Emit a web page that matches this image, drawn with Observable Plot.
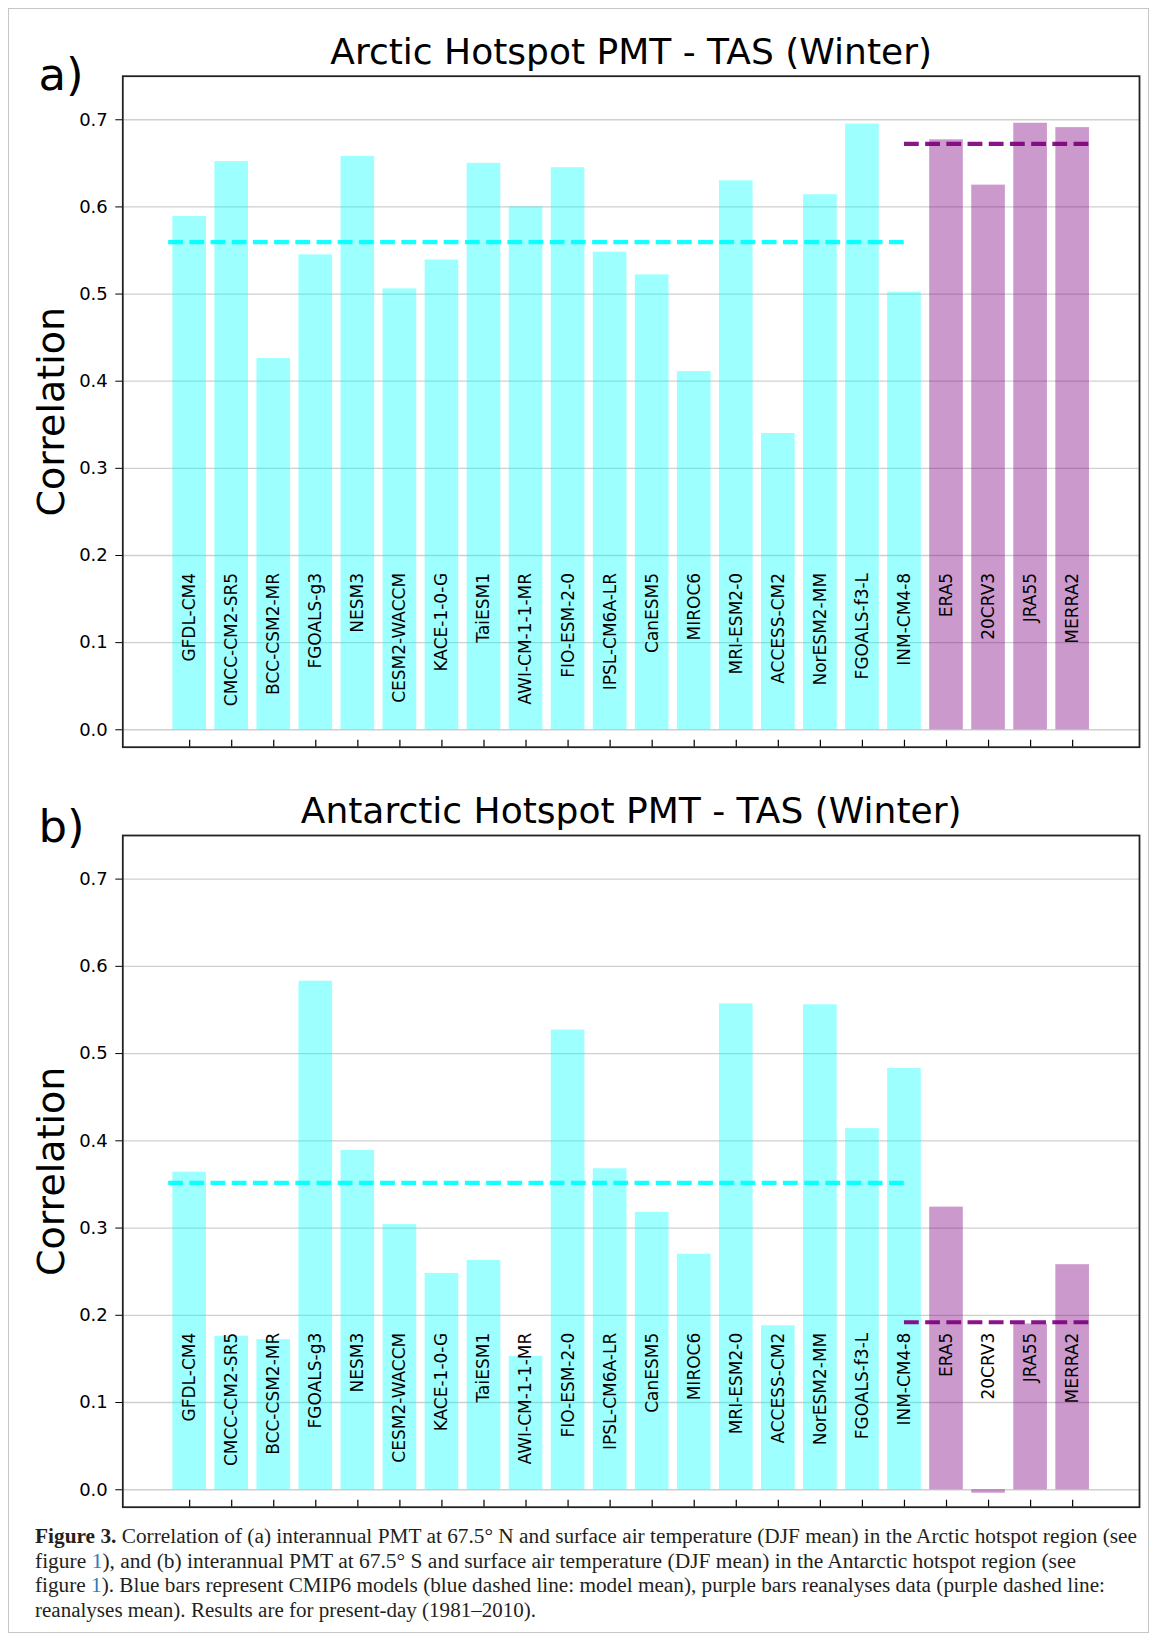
<!DOCTYPE html>
<html><head><meta charset="utf-8">
<script src="https://cdn.jsdelivr.net/npm/d3@7"></script>
<script src="https://cdn.jsdelivr.net/npm/@observablehq/plot@0.6"></script>
<style>
html,body{margin:0;padding:0;background:#fff;}
#page{position:relative;width:1168px;height:1640px;overflow:hidden;background:#fff;}
#border{position:absolute;left:8px;top:8px;width:1141px;height:1625px;border:1.5px solid #c6c6c6;box-sizing:border-box;}
.panel{position:absolute;left:0;}
.cap{position:absolute;left:35px;white-space:nowrap;font-family:"Liberation Serif",serif;font-size:20px;line-height:20px;color:#231f20;transform-origin:0 0;}
.cap b{font-weight:bold}
.cap .lnk{color:#2b7bba}
</style></head><body><div id="page"><div id="border"></div></div>
<script>
const models = ["GFDL-CM4","CMCC-CM2-SR5","BCC-CSM2-MR","FGOALS-g3","NESM3","CESM2-WACCM","KACE-1-0-G","TaiESM1","AWI-CM-1-1-MR","FIO-ESM-2-0","IPSL-CM6A-LR","CanESM5","MIROC6","MRI-ESM2-0","ACCESS-CM2","NorESM2-MM","FGOALS-f3-L","INM-CM4-8"];
const reanalyses = ["ERA5","20CRV3","JRA55","MERRA2"];
const arcticModel = [0.589,0.652,0.426,0.545,0.658,0.506,0.539,0.650,0.600,0.645,0.548,0.522,0.411,0.630,0.340,0.614,0.695,0.502];
const arcticReanalysis = [0.677,0.625,0.696,0.691];
const antarcticModel = [0.364,0.176,0.172,0.583,0.389,0.304,0.248,0.263,0.153,0.527,0.368,0.318,0.270,0.557,0.188,0.556,0.414,0.483];
const antarcticReanalysis = [0.324,-0.004,0.190,0.258];
const yTicks = [0,0.1,0.2,0.3,0.4,0.5,0.6,0.7];
const titles = ["Arctic Hotspot PMT - TAS (Winter)","Antarctic Hotspot PMT - TAS (Winter)"];
const letters = ["a)","b)"];
const yLabel = "Correlation";
const captionLines = [
  [["b","Figure 3."],["t"," Correlation of (a) interannual PMT at 67.5° N and surface air temperature (DJF mean) in the Arctic hotspot region (see"]],
  [["t","figure "],["l","1"],["t","), and (b) interannual PMT at 67.5° S and surface air temperature (DJF mean) in the Antarctic hotspot region (see"]],
  [["t","figure "],["l","1"],["t","). Blue bars represent CMIP6 models (blue dashed line: model mean), purple bars reanalyses data (purple dashed line:"]],
  [["t","reanalyses mean). Results are for present-day (1981–2010)."]]
];

const Y_DOMAIN = [-0.02, 0.75];
const LABEL_Y = 0.18;

function panel(modelVals, reVals, title, letter, opts) {
  const rows = models.map((name, i) => ({name, i, value: modelVals[i], group: "model"}))
    .concat(reanalyses.map((name, j) => ({name, i: models.length + j, value: reVals[j], group: "re"})));
  const nM = models.length, nAll = rows.length;
  const modelMean = d3.mean(modelVals), reMean = d3.mean(reVals);
  return Plot.plot({
    width: 1168, height: 760,
    marginTop: opts.marginTop, marginBottom: opts.marginBottom, marginLeft: 122.3, marginRight: 29,
    style: {fontFamily: "'DejaVu Sans', sans-serif", fontSize: "18px", color: "#000", background: "transparent", overflow: "visible"},
    x: {domain: [-1.59, nAll - 1 + 1.59], axis: null},
    y: {domain: Y_DOMAIN},
    marks: [
      Plot.ruleY(yTicks, {stroke: "#cfcfcf", strokeWidth: 1.3}),
      Plot.rect(rows.filter(d => d.group === "model"), {x1: d => d.i - 0.4, x2: d => d.i + 0.4, y1: 0, y2: "value", fill: "cyan", fillOpacity: 0.38}),
      Plot.rect(rows.filter(d => d.group === "re"), {x1: d => d.i - 0.4, x2: d => d.i + 0.4, y1: 0, y2: "value", fill: "purple", fillOpacity: 0.4}),
      Plot.ruleY([modelMean], {x1: -0.5, x2: nM - 1, stroke: "cyan", strokeOpacity: 0.92, strokeWidth: 4.2, strokeDasharray: "14.8,6.4"}),
      Plot.ruleY([reMean], {x1: nM - 1, x2: nAll - 0.5, stroke: "purple", strokeOpacity: 0.92, strokeWidth: 4.2, strokeDasharray: "14.8,6.4"}),
      Plot.text(rows, {x: "i", y: LABEL_Y, text: "name", rotate: -90, textAnchor: "end", lineAnchor: "middle", fontSize: 17, fill: "#000"}),
      Plot.axisY({ticks: yTicks, tickFormat: d3.format(".1f"), tickSize: 7, tickPadding: 8, fontSize: 18, label: null, anchor: "left"}),
      Plot.ruleX(rows, {x: "i", y1: Y_DOMAIN[0], y2: Y_DOMAIN[0] + 0.008, stroke: "#000", strokeWidth: 1.2}),
      Plot.frame({stroke: "#222", strokeWidth: 1.8}),
      Plot.text([title], {text: d => d, frameAnchor: "top", lineAnchor: "bottom", dy: -12.5, fontSize: 36, fill: "#000"}),
      Plot.text([letter], {text: d => d, frameAnchor: "top-left", textAnchor: "start", lineAnchor: "bottom", dx: -84.3, dy: opts.letterDy, fontSize: 45, fill: "#000"}),
      Plot.text([yLabel], {text: d => d, frameAnchor: "left", rotate: -90, textAnchor: "middle", lineAnchor: "bottom", dx: -59.3, fontSize: 38, fill: "#000"})
    ]
  });
}

const page = document.getElementById("page");
const pa = panel(arcticModel, arcticReanalysis, titles[0], letters[0], {marginTop: 75.7, marginBottom: 13.3, letterDy: 13.5});
pa.classList.add("panel"); pa.style.top = "0px";
page.appendChild(pa);
const pb = panel(antarcticModel, antarcticReanalysis, titles[1], letters[1], {marginTop: 75, marginBottom: 13.3, letterDy: 6.8});
pb.classList.add("panel"); pb.style.top = "760px";
page.appendChild(pb);

const capBaselines = [1543, 1567.5, 1592, 1616.5];
const capRight = [1137, 1076, 1105, 536];
captionLines.forEach((line, k) => {
  const div = document.createElement("div");
  div.className = "cap";
  div.style.top = (capBaselines[k] - 16.75) + "px";
  line.forEach(([kind, txt]) => {
    const el = document.createElement(kind === "b" ? "b" : "span");
    if (kind === "l") el.className = "lnk";
    el.textContent = txt;
    div.appendChild(el);
  });
  page.appendChild(div);
  const w = div.getBoundingClientRect().width;
  const target = capRight[k] - 35;
  div.style.transform = `scaleX(${target / w})`;
});
</script>
</body></html>
